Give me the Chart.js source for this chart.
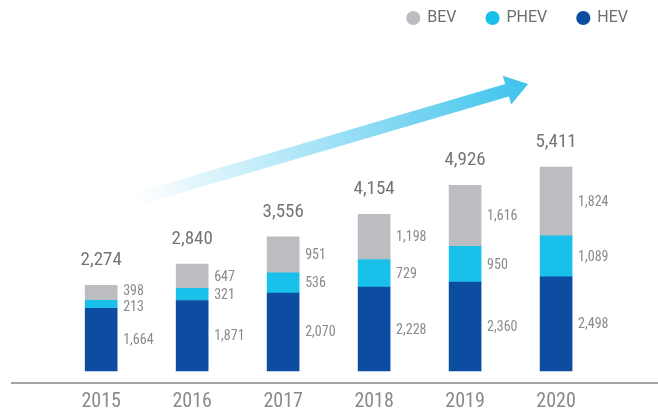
<!DOCTYPE html>
<html>
<head>
<meta charset="utf-8">
<script src="https://cdn.jsdelivr.net/npm/chart.js@4/dist/chart.umd.min.js"></script>
<style>
  html, body { margin: 0; padding: 0; background: #fff; }
  #wrap { width: 658px; height: 414px; }
</style>
</head>
<body>
<div id="wrap"><canvas id="chart"></canvas></div>
<script>
const years = ['2015', '2016', '2017', '2018', '2019', '2020'];
const hev = [1664, 1871, 2070, 2228, 2360, 2498];
const phev = [213, 321, 536, 729, 950, 1089];
const bev = [398, 647, 951, 1198, 1616, 1824];
const totals = [2274, 2840, 3556, 4154, 4926, 5411];

const FONT = "Roboto, 'DejaVu Sans', sans-serif";
const fmt = v => v.toLocaleString('en-US');

// gradient arrow behind the bars
const arrowPlugin = {
    id: 'arrow',
    beforeDatasetsDraw(chart) {
        const ctx = chart.ctx;
        const x = chart.scales.x;
        const b = chart.chartArea.bottom;
        const x0 = x.getPixelForValue(2015) + 36, y0 = b - 184;
        const x1 = x.getPixelForValue(2020) - 28, y1 = b - 299;
        const ang = Math.atan2(y1 - y0, x1 - x0);
        const len = Math.hypot(x1 - x0, y1 - y0);
        const sw = 6.5, hw = 15, hl = 22;
        ctx.save();
        ctx.translate(x0, y0);
        ctx.rotate(ang);
        const g = ctx.createLinearGradient(0, 0, len, 0);
        g.addColorStop(0, 'rgba(62,195,236,0)');
        g.addColorStop(1, 'rgba(62,195,236,1)');
        ctx.fillStyle = g;
        ctx.beginPath();
        ctx.moveTo(0, -sw);
        ctx.lineTo(len - hl, -sw);
        ctx.lineTo(len - hl, -hw);
        ctx.lineTo(len, 0);
        ctx.lineTo(len - hl, hw);
        ctx.lineTo(len - hl, sw);
        ctx.lineTo(0, sw);
        ctx.closePath();
        ctx.fill();
        ctx.restore();
    }
};

// segment values on the right of each bar, totals above
const labelPlugin = {
    id: 'labels',
    afterDatasetsDraw(chart) {
        const ctx = chart.ctx;
        const n = chart.data.datasets.length;
        ctx.save();
        ctx.font = 'condensed 14px ' + FONT;
        ctx.fillStyle = '#898a8d';
        ctx.textAlign = 'left';
        ctx.textBaseline = 'middle';
        chart.data.labels.forEach((lab, i) => {
            // top segment first
            const items = [];
            for (let di = n - 1; di >= 0; di--) {
                const bar = chart.getDatasetMeta(di).data[i];
                items.push({ text: fmt(chart.data.datasets[di].data[i]), x: bar.x + bar.width / 2 + 6, y: (bar.y + bar.base) / 2 + 1 });
            }
            for (let k = 1; k < items.length; k++) {
                const gap = items[k].y - items[k - 1].y;
                if (gap < 16) {
                    items[k - 1].y -= (16 - gap) / 2;
                    items[k].y += (16 - gap) / 2;
                }
            }
            items.forEach(it => ctx.fillText(it.text, it.x, it.y));
        });
        const top = chart.getDatasetMeta(n - 1).data;
        ctx.font = 'condensed 19px ' + FONT;
        ctx.fillStyle = '#747578';
        ctx.textAlign = 'center';
        ctx.textBaseline = 'alphabetic';
        top.forEach((bar, i) => {
            ctx.fillText(fmt(totals[i]), bar.x, bar.y - 20);
        });
        ctx.restore();
    }
};

new Chart(document.getElementById('chart'), {
    type: 'bar',
    data: {
        labels: years,
        datasets: [
            { label: 'HEV', data: hev, backgroundColor: '#0c4da2' },
            { label: 'PHEV', data: phev, backgroundColor: '#18c0ea' },
            { label: 'BEV', data: bev, backgroundColor: '#bcbdc1' }
        ]
    },
    options: {
        responsive: true,
        maintainAspectRatio: false,
        animation: false,
        layout: { padding: { top: -20, left: 12, right: 0, bottom: -7 } },
        datasets: { bar: { barThickness: 32 } },
        scales: {
            x: {
                type: 'linear',
                stacked: true,
                offset: false,
                min: 2014.02,
                max: 2021.12,
                grid: { display: false, drawTicks: false, offset: false },
                border: { display: true, color: '#a3a3a3', width: 2 },
                ticks: {
                    stepSize: 1,
                    includeBounds: false,
                    autoSkip: false,
                    maxRotation: 0,
                    padding: 7,
                    color: '#8a8a8d',
                    font: { family: FONT, size: 20, weight: 'condensed' },
                    callback: v => years.includes(String(Math.round(v))) ? String(Math.round(v)) : ''
                }
            },
            y: {
                stacked: true,
                display: false,
                min: -318,
                max: 8886
            }
        },
        plugins: {
            legend: {
                position: 'top',
                align: 'end',
                reverse: true,
                labels: {
                    usePointStyle: true,
                    pointStyle: 'circle',
                    boxWidth: 12,
                    boxHeight: 10,
                    padding: 30,
                    color: '#6d6e71',
                    font: { family: FONT, size: 16 }
                }
            },
            tooltip: { enabled: false }
        }
    },
    plugins: [arrowPlugin, labelPlugin]
});
</script>
</body>
</html>
